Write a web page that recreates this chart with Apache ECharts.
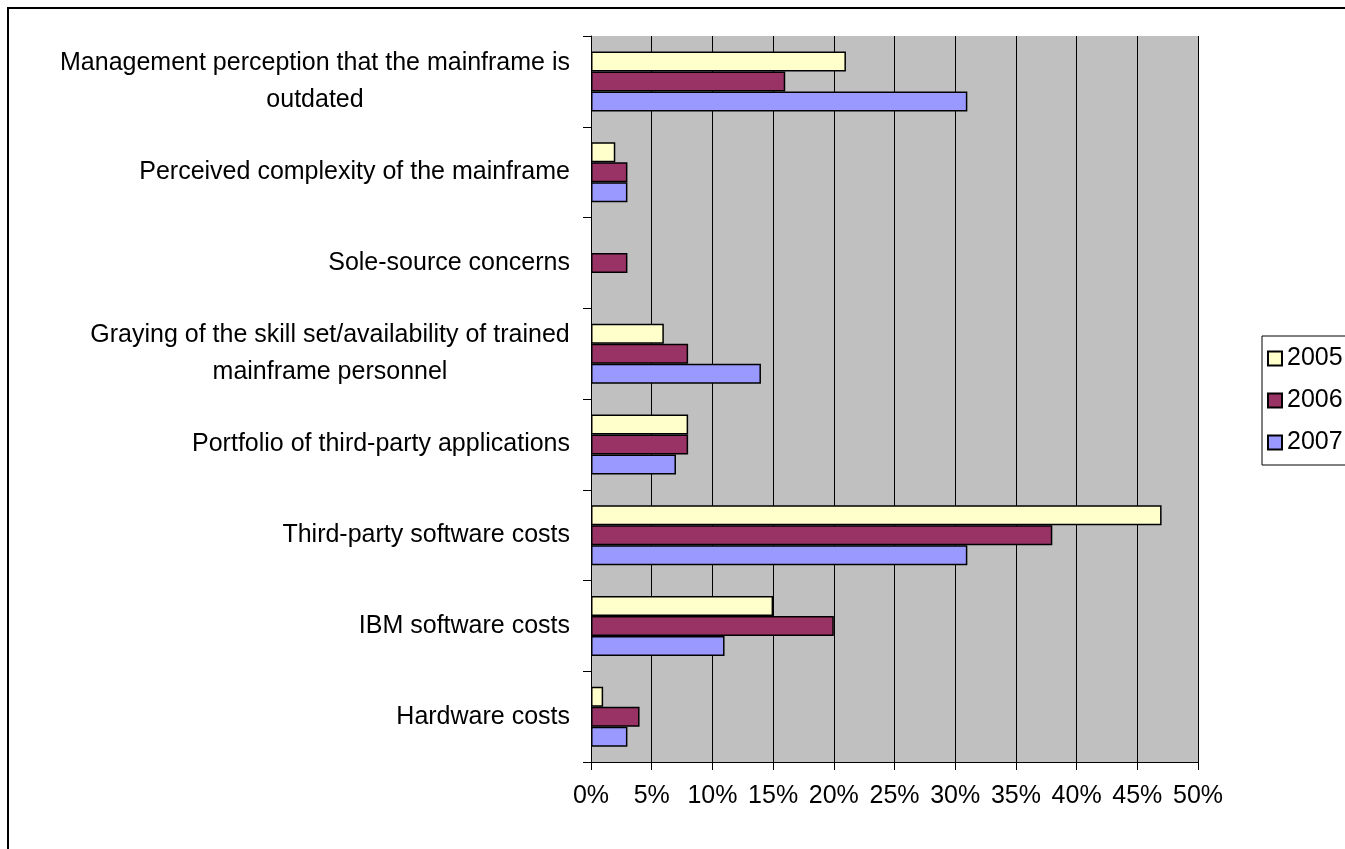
<!DOCTYPE html>
<html>
<head>
<meta charset="utf-8">
<title>Mainframe concerns by year</title>
<script src="https://cdn.jsdelivr.net/npm/echarts@6/dist/echarts.min.js"></script>
<style>
  html, body { margin: 0; padding: 0; background: #ffffff; }
  #chart { width: 1345px; height: 849px; }
</style>
</head>
<body>
<div id="chart"></div>
<script>
// Categories, listed top to bottom ("\n" marks where a label wraps)
const categories = [
  'Management perception that the mainframe is\noutdated',
  'Perceived complexity of the mainframe',
  'Sole-source concerns',
  'Graying of the skill set/availability of trained\nmainframe personnel',
  'Portfolio of third-party applications',
  'Third-party software costs',
  'IBM software costs',
  'Hardware costs'
];

// Share of respondents (%) per year, same order as categories
const years = ['2005', '2006', '2007'];
const values2005 = [21, 2, null, 6, 8, 47, 15, 1];
const values2006 = [16, 3, 3, 8, 8, 38, 20, 4];
const values2007 = [31, 3, null, 14, 7, 31, 11, 3];

// Value-axis ticks
const axisMin = 0;
const axisMax = 50;
const axisStep = 5;

const FONT = '"Liberation Sans", Arial, sans-serif';
const FONT_SIZE = 25;
const LINE_HEIGHT = 37;
const colors = ['#FFFFCC', '#993366', '#9999FF'];

// Measure text so wrapped labels can be centred within their own block
const measureCtx = document.createElement('canvas').getContext('2d');
measureCtx.font = FONT_SIZE + 'px ' + FONT;
const rich = {};
const labelStyleKey = {};
categories.forEach(function (cat, i) {
  const lines = cat.split('\n');
  if (lines.length > 1) {
    const w = Math.ceil(Math.max.apply(null, lines.map(function (l) { return measureCtx.measureText(l).width; })));
    const key = 'w' + i;
    rich[key] = { width: w, align: 'center', fontSize: FONT_SIZE, fontFamily: FONT, color: '#000', lineHeight: LINE_HEIGHT };
    labelStyleKey[cat] = key;
  }
});

const chart = echarts.init(document.getElementById('chart'), null, { renderer: 'canvas' });

const seriesData = [values2005, values2006, values2007];

chart.setOption({
  backgroundColor: '#ffffff',
  animation: false,
  textStyle: { fontFamily: FONT, color: '#000' },
  graphic: [{
    type: 'rect',
    z: 100,
    silent: true,
    shape: { x: 8, y: 8, width: 1400, height: 900 },
    style: { fill: 'none', stroke: '#000', lineWidth: 2 }
  }],
  grid: {
    left: 591, top: 36, width: 607, height: 726,
    show: true, backgroundColor: '#C0C0C0', borderWidth: 0
  },
  legend: {
    data: years,
    orient: 'vertical',
    left: 1262, top: 336,
    padding: [10, 12, 10, 5],
    itemWidth: 14, itemHeight: 14, itemGap: 17,
    icon: 'rect',
    borderColor: '#000', borderWidth: 1,
    backgroundColor: '#ffffff',
    textStyle: { fontSize: FONT_SIZE, fontFamily: FONT, color: '#000', lineHeight: 25 }
  },
  xAxis: {
    type: 'value',
    min: axisMin, max: axisMax, interval: axisStep,
    axisLine: { show: true, lineStyle: { color: '#000', width: 1 } },
    axisTick: { show: true, length: 8, lineStyle: { color: '#000' } },
    splitLine: { show: true, lineStyle: { color: '#000', width: 1 } },
    axisLabel: {
      formatter: '{value}%', margin: 22,
      fontSize: FONT_SIZE, fontFamily: FONT, color: '#000'
    }
  },
  yAxis: {
    type: 'category',
    inverse: true,
    data: categories,
    axisLine: { show: true, lineStyle: { color: '#000', width: 1 } },
    axisTick: { show: true, length: 8, lineStyle: { color: '#000' } },
    splitLine: { show: false },
    axisLabel: {
      margin: 21,
      fontSize: FONT_SIZE, fontFamily: FONT, color: '#000',
      lineHeight: LINE_HEIGHT,
      align: 'right',
      rich: rich,
      formatter: function (value) {
        const key = labelStyleKey[value];
        if (!key) return value;
        return value.split('\n').map(function (l) { return '{' + key + '|' + l + '}'; }).join('\n');
      }
    }
  },
  series: years.map(function (y, i) {
    return {
      name: y,
      type: 'bar',
      data: seriesData[i],
      barWidth: 20,
      barGap: '0%',
      itemStyle: { color: colors[i], borderColor: '#000', borderWidth: 1.5 }
    };
  })
});
</script>
</body>
</html>
